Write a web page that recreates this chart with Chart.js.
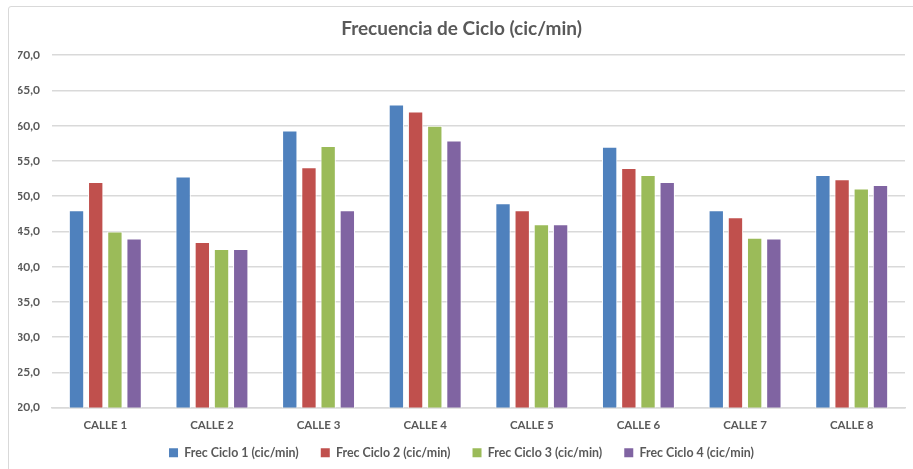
<!DOCTYPE html>
<html>
<head>
<meta charset="utf-8">
<script src="https://cdn.jsdelivr.net/npm/chart.js@4/dist/chart.umd.min.js"></script>
<style>
  html, body { margin: 0; padding: 0; background: #fff; overflow: hidden; }
  #wrap { position: relative; width: 913px; height: 469px; overflow: hidden; }
  #frame { position: absolute; left: 8px; top: 6px; width: 920px; height: 480px;
           border: 1px solid #d9d9d9; border-radius: 3px; box-sizing: border-box; }
  canvas { position: absolute; left: 0; top: 0; }
</style>
</head>
<body>
<div id="wrap">
  <div id="frame"></div>
  <canvas id="chart" width="913" height="469"></canvas>
</div>
<script>
// datos
const categories = ['CALLE 1', 'CALLE 2', 'CALLE 3', 'CALLE 4', 'CALLE 5', 'CALLE 6', 'CALLE 7', 'CALLE 8'];
const ciclo1 = [48.0, 52.8, 59.3, 63.0, 49.0, 57.0, 48.0, 53.0];
const ciclo2 = [52.0, 43.5, 54.1, 62.0, 48.0, 54.0, 47.0, 52.4];
const ciclo3 = [45.0, 42.5, 57.1, 60.0, 46.0, 53.0, 44.1, 51.1];
const ciclo4 = [44.0, 42.5, 48.0, 57.9, 46.0, 52.0, 44.0, 51.6];
const seriesNames = ['Frec Ciclo 1 (cic/min)', 'Frec Ciclo 2 (cic/min)', 'Frec Ciclo 3 (cic/min)', 'Frec Ciclo 4 (cic/min)'];
const seriesColors = ['#4F81BD', '#C0504D', '#9BBB59', '#8064A2'];
const yMin = 20, yMax = 70, yStep = 5;

const txt = '#595959';
const fontFam = 'Lato, "Open Sans", sans-serif';

const seriesValues = [ciclo1, ciclo2, ciclo3, ciclo4];
const datasets = seriesValues.map((vals, i) => ({
    label: seriesNames[i],
    data: vals,
    backgroundColor: seriesColors[i],
    borderColor: '#ffffff',
    borderWidth: 1,
    categoryPercentage: 0.72,
    barPercentage: 0.8
}));

new Chart(document.getElementById('chart').getContext('2d'), {
    type: 'bar',
    data: { labels: categories, datasets: datasets },
    options: {
        responsive: false,
        animation: false,
        layout: { padding: { top: 14, left: 18, right: 8, bottom: 0 } },
        plugins: {
            title: {
                display: true,
                text: 'Frecuencia de Ciclo (cic/min)',
                color: txt,
                font: { family: fontFam, size: 19, weight: 'bold' },
                padding: { top: 3, bottom: 15.4 }
            },
            legend: {
                position: 'bottom',
                labels: {
                    color: txt,
                    font: { family: fontFam, size: 12.4, weight: 'bold' },
                    boxWidth: 9,
                    boxHeight: 9,
                    padding: 13,
                    // espacios al final para separar más los elementos (no en el último)
                    generateLabels: chart => chart.data.datasets.map((ds, i, all) => ({
                        text: i < all.length - 1 ? ds.label + '   ' : ds.label,
                        fillStyle: ds.backgroundColor,
                        strokeStyle: ds.backgroundColor,
                        lineWidth: 0,
                        fontColor: txt,
                        datasetIndex: i
                    }))
                }
            },
            tooltip: { enabled: false }
        },
        scales: {
            x: {
                afterFit: s => { s.height = 26; },
                grid: { display: false, drawTicks: false },
                border: { display: true, color: '#d9d9d9', width: 1.5 },
                ticks: {
                    color: txt,
                    padding: 11,
                    font: { family: fontFam, size: 11.5, weight: 'bold' }
                }
            },
            y: {
                min: yMin,
                max: yMax,
                afterFit: s => { s.width = 34; },
                grid: { color: '#d9d9d9', lineWidth: 1.5, drawTicks: false },
                border: { display: false },
                ticks: {
                    stepSize: yStep,
                    color: txt,
                    padding: 12,
                    font: { family: fontFam, size: 12, weight: 'bold' },
                    callback: v => v.toFixed(1).replace('.', ',')
                }
            }
        }
    }
});
</script>
</body>
</html>
